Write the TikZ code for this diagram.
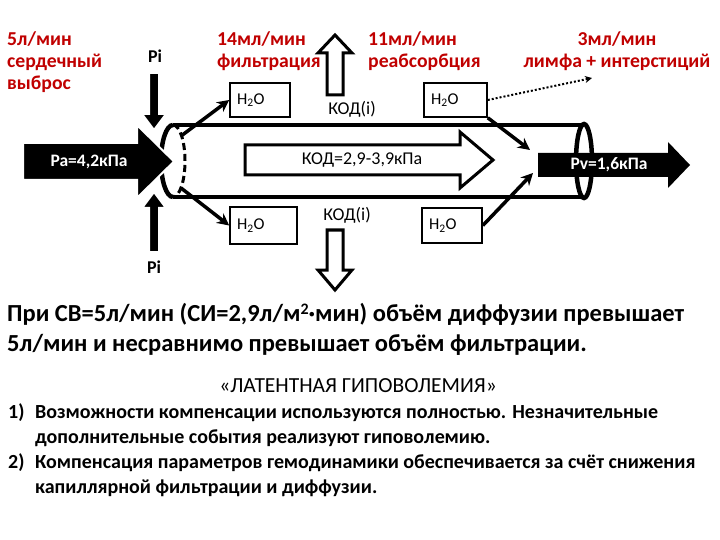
\documentclass[tikz,border=0pt]{standalone}
\usepackage{fontspec}
\setmainfont{Carlito}
\usetikzlibrary{arrows.meta}
\definecolor{darkred}{RGB}{192,0,0}

\begin{document}
\begin{tikzpicture}[x=1pt, y=-1pt,
    redlabel/.style={text=darkred, font=\bfseries\fontsize{19.7}{22}\selectfont, inner sep=0pt},
    water/.style={draw, line width=1.6pt, minimum height=34pt, inner xsep=7pt, inner ysep=0pt,
      text width=46pt, align=left, font=\fontsize{16.5}{18}\selectfont},
    flow/.style={line width=3.5pt, -{Stealth[length=12pt, width=12pt]}},
    hollow/.style={draw, line width=3pt, line join=miter},
    solid arrow/.style={fill=black, draw=white, line width=2pt},
    plain/.style={font=\fontsize{18}{20}\selectfont, inner sep=0pt},
    pressure/.style={font=\bfseries\fontsize{17.5}{20}\selectfont, text=white, inner sep=0pt},
    body/.style={font=\bfseries\fontsize{24.5}{28}\selectfont, inner sep=0pt, anchor=base west},
    item/.style={font=\bfseries\fontsize{20}{24}\selectfont, inner sep=0pt, anchor=base west}]
    \useasboundingbox (0,0) rectangle (720,540);

    % Flows above the vessel
    \node[redlabel, anchor=north west, align=left] (output) at (7,31) {5л/мин\\сердечный\\выброс};
    \node[redlabel, anchor=north west, align=left] (filtr) at (217,31) {14мл/мин\\фильтрация};
    \node[redlabel, anchor=north west, align=left] (reabs) at (368,31) {11мл/мин\\реабсорбция};
    \node[redlabel, anchor=north, align=center] (lymph) at (617,31) {3мл/мин\\лимфа + интерстиций};

    % Vessel
    \draw[line width=4.5pt] (173,125) -- (584,125);
    \draw[line width=4.5pt] (173,197) -- (584,197);
    \draw[line width=4.5pt] (173,125) arc[start angle=-90, end angle=-270, x radius=12, y radius=36];
    \draw[line width=3pt, dash pattern=on 7pt off 4pt] (173,125) arc[start angle=-90, end angle=90, x radius=12, y radius=36];
    \draw[line width=4.5pt] (584,161) ellipse[x radius=8, y radius=37];

    % Pressure inside the vessel
    \draw[hollow] (245,145) -- (460,145) -- (460,132) -- (493,160) -- (460,188) -- (460,175) -- (245,175) -- cycle;
    \node[plain] (kod) at (362,160) {КОД=2,9-3,9кПа};

    % Arterial and venous ends
    \filldraw[solid arrow] (23,143) -- (137,143) -- (137,125) -- (174,161.5) -- (137,198) -- (137,180) -- (23,180) -- cycle;
    \node[pressure] (pa) at (89,162) {Pa=4,2кПа};
    \fill (538,153) -- (668,153) -- (668,142) -- (690,165) -- (668,188) -- (668,177) -- (538,177) -- cycle;
    \node[pressure] (pv) at (609,165) {Pv=1,6кПа};

    % Interstitial pressure
    \filldraw[solid arrow] (149,73) -- (159,73) -- (159,114) -- (166,114) -- (154,130) -- (142,114) -- (149,114) -- cycle;
    \filldraw[solid arrow] (149,252) -- (159,252) -- (159,208) -- (166,208) -- (154,192) -- (142,208) -- (149,208) -- cycle;
    \node[font=\bfseries\fontsize{18}{20}\selectfont, inner sep=0pt] (pi top) at (155,56) {Pi};
    \node[font=\bfseries\fontsize{18}{20}\selectfont, inner sep=0pt] (pi bottom) at (154,267) {Pi};

    % Oncotic pressure of the interstitium
    \draw[hollow] (327,95) -- (327,53) -- (318,53) -- (335,35) -- (352,53) -- (343,53) -- (343,95) -- cycle;
    \draw[hollow] (327,230) -- (343,230) -- (343,270) -- (352,270) -- (335,290) -- (318,270) -- (327,270) -- cycle;
    \node[plain] (kod top) at (352,109) {КОД(i)};
    \node[plain] (kod bottom) at (347,215) {КОД(i)};

    % Water exchange
    \node[water] (w1) at (260,100) {H\textsubscript{2}O};
    \node[water, minimum height=37pt, text width=53pt] (w2) at (263.5,225.5) {H\textsubscript{2}O};
    \node[water, text width=49pt] (w3) at (455.5,100) {H\textsubscript{2}O};
    \node[water, minimum height=35pt] (w4) at (452,225.5) {H\textsubscript{2}O};
    \coordinate (out top) at (181,136);
    \coordinate (out bottom) at (181,188);
    \coordinate (in top) at (530,150);
    \coordinate (in bottom) at (533,173);
    \coordinate (drain) at (592,78);
    \draw[flow] (out top) -- (w1.west);
    \draw[flow] (out bottom) -- (w2.west);
    \draw[flow] (w3.south east) -- (in top);
    \draw[flow] (w4.east) -- (in bottom);
    \draw[line width=2pt, dotted, -{Stealth[length=7pt, width=7pt]}] (w3.east) -- (drain);

    % Conclusions
    \node[body] (line1) at (7,321) {При СВ=5л/мин (СИ=2,9л/м{\fontsize{16}{16}\selectfont\raisebox{7pt}{2}}·мин) объём диффузии превышает};
    \node[body] (line2) at (7,351) {5л/мин и несравнимо превышает объём фильтрации.};
    \node[font=\fontsize{21.5}{24}\selectfont, inner sep=0pt, anchor=base] (title) at (358,392) {«ЛАТЕНТНАЯ ГИПОВОЛЕМИЯ»};
    \node[item] (n1) at (8,418) {1)};
    \node[item] (item1a) at (35,418) {Возможности компенсации используются полностью. Незначительные};
    \node[item] (item1b) at (35,443) {дополнительные события реализуют гиповолемию.};
    \node[item] (n2) at (8,468) {2)};
    \node[item] (item2a) at (35,468) {Компенсация параметров гемодинамики обеспечивается за счёт снижения};
    \node[item] (item2b) at (35,493) {капиллярной фильтрации и диффузии.};
\end{tikzpicture}
\end{document}
